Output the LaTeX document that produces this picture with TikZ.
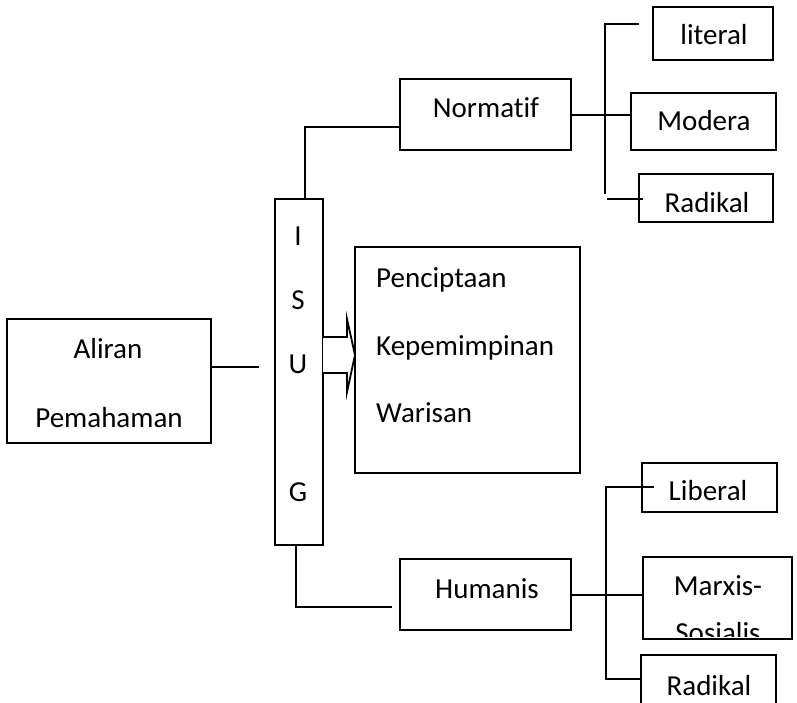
\documentclass[tikz,border=0pt]{standalone}
\usepackage{fontspec}
\setmainfont[Ligatures={NoCommon}]{Carlito}
\begin{document}
\begin{tikzpicture}[x=1pt,y=-1pt,
  box/.style={draw, line width=1.8pt, fill=white, inner sep=0pt, outer sep=0pt},
  txt/.style={inner sep=0pt, anchor=base, font=\fontsize{29}{35}\selectfont},
  conn/.style={line width=1.8pt}]
\clip (0,0) rectangle (797,703);
\fill[white] (0,0) rectangle (797,703);

% boxes
\node[box, minimum width=204, minimum height=124] (aliran) at (109,381) {};
\node[box, minimum width=48, minimum height=346] (isug) at (299,372) {};
\node[box, minimum width=171, minimum height=71] (norm) at (485.5,114.5) {};
\node[box, minimum width=171, minimum height=71] (hum) at (485.5,594.5) {};
\node[box, minimum width=225, minimum height=226] (pen) at (467.5,360) {};
\node[box, minimum width=120, minimum height=53] (lit) at (713,33.5) {};
\node[box, minimum width=145, minimum height=57] (mod) at (703.5,121.5) {};
\node[box, minimum width=134, minimum height=48] (rad1) at (706,198) {};
\node[box, minimum width=135, minimum height=49] (lib) at (709.5,487.5) {};
\node[box, minimum width=149, minimum height=82] (marx) at (717.5,598) {};
\node[box, minimum width=135, minimum height=60] (rad2) at (708.5,685) {};

% texts
\node[txt] (tal) at (108,358) {Aliran};
\node[txt] (tpm) at (109,427) {Pemahaman};
\node[txt] (ti) at (298,245) {I};
\node[txt] (ts) at (298,309) {S};
\node[txt] (tu) at (298,373) {U};
\node[txt] (tg) at (298,501) {G};
\node[txt] (tno) at (486,118) {Normatif};
\node[txt] (thu) at (487,598) {Humanis};
\node[txt, anchor=base west] (tpe) at (376,287) {Penciptaan};
\node[txt, anchor=base west] (tke) at (376,355) {Kepemimpinan};
\node[txt, anchor=base west] (twa) at (376,422) {Warisan};
\node[txt] (tli) at (714,45) {literal};
\node[txt] (tmo) at (704,131) {Modera};
\node[txt] (tr1) at (707,213) {Radikal};
\node[txt] (tlb) at (708,500) {Liberal};
\node[txt] (tmx) at (718,595) {Marxis-};
\begin{scope}
  \clip (645,559) rectangle (790,636);
  \node[txt] (tso) at (718,642) {Sosialis};
\end{scope}
\node[txt] (tr2) at (709,695) {Radikal};

% connectors
\coordinate (a1) at (259,367);
\draw[conn] (aliran.east |- a1) -- (a1);

\coordinate (nt) at (305,127);
\draw[conn] (isug.north -| nt) -- (nt) -- (norm.west |- nt);

\coordinate (hb) at (296,607);
\coordinate (hend) at (392,607);
\draw[conn] (isug.south -| hb) -- (hb) -- (hend);

% block arrow
\coordinate (ar1) at (323,337);
\coordinate (ar2) at (347,337);
\coordinate (ar3) at (347,319);
\coordinate (ar4) at (355,355);
\coordinate (ar5) at (347,392);
\coordinate (ar6) at (347,373);
\coordinate (ar7) at (323,373);
\draw[conn, fill=white, line join=miter] (ar1) -- (ar2) -- (ar3) -- (ar4) -- (ar5) -- (ar6) -- (ar7);

% Normatif branch
\coordinate (nv) at (605,115);
\draw[conn] (norm.east |- nv) -- (mod.west |- nv);
\coordinate (nvt) at (605,24);
\coordinate (nvb) at (605,194);
\coordinate (lt) at (639,24);
\draw[conn] (lt) -- (nvt) -- (nvb);
\coordinate (rb1) at (607,199);
\coordinate (rb2) at (643,199);
\draw[conn] (rb1) -- (rb2);

% Humanis branch
\coordinate (hv) at (606,595);
\draw[conn] (hum.east |- hv) -- (marx.west |- hv);
\coordinate (hvt) at (606,487);
\coordinate (hlt) at (654,487);
\coordinate (hvb) at (606,679);
\draw[conn] (hlt) -- (hvt) -- (hvb) -- (rad2.west |- hvb);
\end{tikzpicture}
\end{document}
